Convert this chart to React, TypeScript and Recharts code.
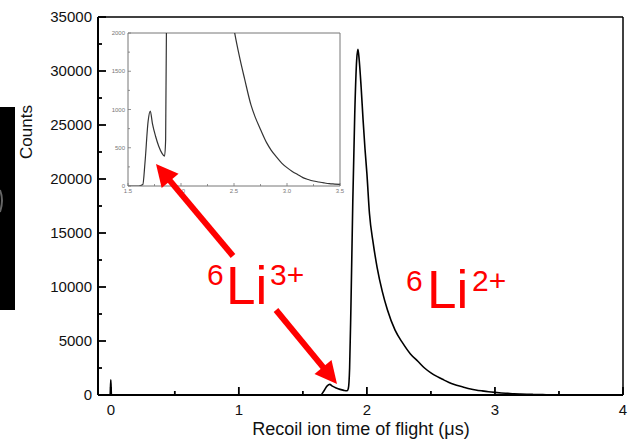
import React from 'react';
import { LineChart, Line, XAxis, YAxis, ReferenceLine } from 'recharts';

// time of flight (us) and counts
const tof = [
  -0.1, -0.02, -0.005, 0, 0.005, 0.02, 1.0, 1.6, 1.64, 1.66, 1.69, 1.71, 1.73, 1.76, 1.79, 1.82,
  1.845, 1.855, 1.865, 1.875, 1.89, 1.905, 1.92, 1.93, 1.94, 1.955, 1.97, 1.985, 2.0, 2.02, 2.05,
  2.08, 2.12, 2.16, 2.22, 2.28, 2.34, 2.4, 2.45, 2.5, 2.55, 2.6, 2.66, 2.7, 2.75, 2.81, 2.85, 2.9,
  2.95, 3.0, 3.05, 3.1, 3.15, 3.2, 3.25, 3.3, 3.35, 3.4, 3.45, 3.5, 3.7, 4.0,
];
const counts = [
  0, 0, 0, 1400, 0, 0, 0, 0, 20, 300, 850, 980, 820, 650, 520, 430,
  390, 600, 2500, 8000, 18000, 26000, 31000, 32000, 31000, 28500, 25500, 22800, 20500, 16800, 14000,
  11800, 9600, 7900, 6000, 4800, 3800, 3100, 2500, 2050, 1700, 1400, 1060, 900, 740, 560, 470, 380,
  300, 240, 190, 150, 110, 85, 65, 52, 40, 30, 25, 20, 10, 0,
];

const xTicks = [0, 0.5, 1, 1.5, 2, 2.5, 3, 3.5, 4];
const yTicks = [0, 2500, 5000, 7500, 10000, 12500, 15000, 17500, 20000, 22500, 25000, 27500, 30000, 32500, 35000];
const insetXTicks = [1.5, 1.75, 2, 2.25, 2.5, 2.75, 3, 3.25, 3.5];
const insetYTicks = [0, 250, 500, 750, 1000, 1250, 1500, 1750, 2000];

const data = tof.map((x, i) => ({ x, y: counts[i] }));

const font = '"Liberation Sans", Arial, sans-serif';

const XTick = (props: any) => {
  const { x, y, payload } = props;
  const v = payload.value;
  const major = Number.isInteger(v);
  return (
    <g>
      <line x1={x} x2={x} y1={y} y2={y - (major ? 8 : 4)} stroke="#000" strokeWidth={1.8} />
      {major && (
        <text x={x} y={y + 20} textAnchor="middle" fontSize={15} fontFamily={font} fill="#111">
          {v}
        </text>
      )}
    </g>
  );
};

const YTick = (props: any) => {
  const { x, y, payload } = props;
  const v = payload.value;
  const major = v % 5000 === 0;
  return (
    <g>
      <line x1={x} x2={x + (major ? 8 : 4)} y1={y} y2={y} stroke="#000" strokeWidth={1.8} />
      {major && (
        <text x={x - 6} y={y + 5} textAnchor="end" fontSize={15} fontFamily={font} fill="#111">
          {v}
        </text>
      )}
    </g>
  );
};

const InsetXTick = (props: any) => {
  const { x, y, payload } = props;
  const v = payload.value;
  const major = Math.abs(v * 2 - Math.round(v * 2)) < 1e-6;
  return (
    <g>
      <line x1={x} x2={x} y1={y} y2={y - (major ? 3 : 2)} stroke="#777" strokeWidth={0.8} />
      {major && (
        <text x={x} y={y + 7} textAnchor="middle" fontSize={6} fontFamily={font} fill="#777">
          {v.toFixed(1)}
        </text>
      )}
    </g>
  );
};

const InsetYTick = (props: any) => {
  const { x, y, payload } = props;
  const v = payload.value;
  const major = v % 500 === 0;
  return (
    <g>
      <line x1={x} x2={x + (major ? 3 : 2)} y1={y} y2={y} stroke="#777" strokeWidth={0.8} />
      {major && (
        <text x={x - 3} y={y + 2} textAnchor="end" fontSize={6} fontFamily={font} fill="#777">
          {v}
        </text>
      )}
    </g>
  );
};

function arrow(x1: number, y1: number, x2: number, y2: number) {
  const dx = x2 - x1;
  const dy = y2 - y1;
  const len = Math.sqrt(dx * dx + dy * dy);
  const ux = dx / len;
  const uy = dy / len;
  const head = 22;
  const half = 11;
  const bx = x2 - ux * head;
  const by = y2 - uy * head;
  const pts = [
    [x2, y2],
    [bx - uy * half, by + ux * half],
    [bx + uy * half, by - ux * half],
  ]
    .map((p) => p.join(','))
    .join(' ');
  return (
    <g>
      <line x1={x1} y1={y1} x2={bx + ux * 2} y2={by + uy * 2} stroke="#ff0000" strokeWidth={6} />
      <polygon points={pts} fill="#ff0000" />
    </g>
  );
}

export default function App() {
  return (
    <div style={{ position: 'absolute', left: 0, top: 0, width: 633, height: 439, background: '#fff' }}>
      <LineChart width={633} height={439} data={data} margin={{ top: 17, right: 10, bottom: 14, left: 38 }}>
        <XAxis
          dataKey="x"
          type="number"
          domain={[-0.1, 4]}
          ticks={xTicks}
          interval={0}
          allowDataOverflow
          height={30}
          tickSize={0}
          tickMargin={0}
          tickLine={false}
          tick={<XTick />}
          axisLine={{ stroke: '#000', strokeWidth: 2 }}
        />
        <YAxis
          type="number"
          domain={[0, 35000]}
          ticks={yTicks}
          interval={0}
          width={60}
          tickSize={0}
          tickMargin={0}
          tickLine={false}
          tick={<YTick />}
          axisLine={{ stroke: '#000', strokeWidth: 2 }}
        />
        <ReferenceLine y={35000} stroke="#000" strokeWidth={1.5} />
        <ReferenceLine x={4} stroke="#000" strokeWidth={1.5} />
        <Line dataKey="y" type="monotone" stroke="#000" strokeWidth={1.6} dot={false} isAnimationActive={false} />
      </LineChart>

      <div style={{ position: 'absolute', left: 100, top: 20 }}>
        <LineChart width={250} height={180} data={data} margin={{ top: 13, right: 10, bottom: 4, left: 8 }}>
          <XAxis
            dataKey="x"
            type="number"
            domain={[1.5, 3.5]}
            ticks={insetXTicks}
            interval={0}
            allowDataOverflow
            height={10}
            tickSize={0}
            tickMargin={0}
            tickLine={false}
            tick={<InsetXTick />}
            axisLine={{ stroke: '#777', strokeWidth: 1 }}
          />
          <YAxis
            type="number"
            domain={[0, 2000]}
            ticks={insetYTicks}
            interval={0}
            allowDataOverflow
            width={20}
            tickSize={0}
            tickMargin={0}
            tickLine={false}
            tick={<InsetYTick />}
            axisLine={{ stroke: '#777', strokeWidth: 1 }}
          />
          <ReferenceLine y={2000} stroke="#777" strokeWidth={1} />
          <ReferenceLine x={3.5} stroke="#777" strokeWidth={1} />
          <Line dataKey="y" type="monotone" stroke="#333" strokeWidth={1.2} dot={false} isAnimationActive={false} />
        </LineChart>
      </div>

      <svg width={633} height={439} style={{ position: 'absolute', left: 0, top: 0, pointerEvents: 'none' }}>
        <rect x={0} y={107} width={15} height={203} fill="#000" />
        <path d="M0,190 Q4,200 0,212" stroke="#666" strokeWidth={2} fill="none" />
        <text
          x={32}
          y={132}
          transform="rotate(-90 32 132)"
          textAnchor="middle"
          fontSize={17}
          fontFamily={font}
          fill="#111"
        >
          Counts
        </text>
        <text x={361} y={435} textAnchor="middle" fontSize={18} fontFamily={font} fill="#111">
          Recoil ion time of flight (μs)
        </text>

        {arrow(233, 256, 156, 164)}
        {arrow(276, 310, 337, 384)}

        <g fill="#ff0000" fontFamily={font}>
          <text x={207} y={285} fontSize={30}>6</text>
          <text x={226} y={304} fontSize={53}>Li</text>
          <text x={270} y={285} fontSize={30}>3+</text>

          <text x={406} y={291} fontSize={30}>6</text>
          <text x={427} y={308} fontSize={53}>Li</text>
          <text x={472} y={291} fontSize={30}>2+</text>
        </g>
      </svg>
    </div>
  );
}
